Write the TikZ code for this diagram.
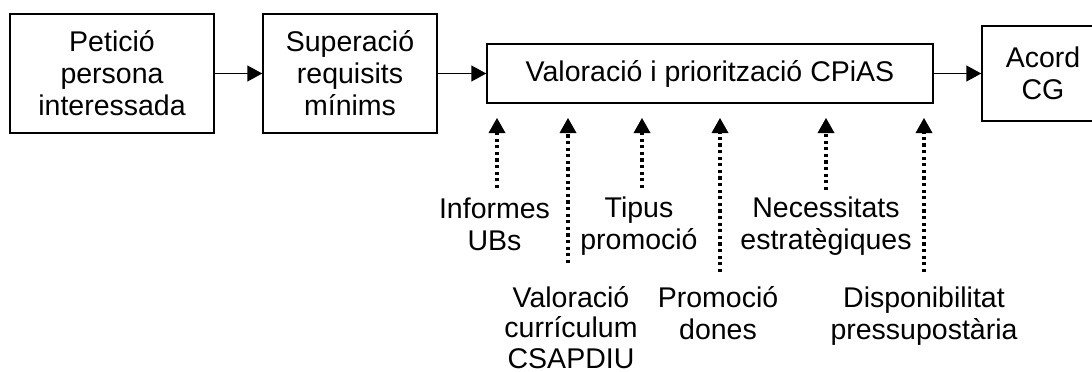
\documentclass[tikz,border=0pt]{standalone}
\usepackage{fontspec}
\setmainfont{Liberation Sans}
\usetikzlibrary{arrows.meta}
\newcommand\dgfont{\fontsize{28.5}{32}\selectfont}
\newcommand\dgfontb{\fontsize{28.5}{30.5}\selectfont}
\newcommand\topstrut{\rule{0pt}{22.4pt}}
\begin{document}
\begin{tikzpicture}[x=1pt,y=-1pt,
  box/.style={draw, line width=1.5pt, align=center, inner sep=0pt, font=\dgfont},
  flow/.style={line width=1.5pt, -{Triangle[length=15pt,width=16pt]}},
  infl/.style={line width=3.2pt, dash pattern=on 3.3pt off 3.3pt,
    -{Triangle[length=15pt,width=17pt,line width=0pt]}},
  lab/.style={align=center, inner sep=0pt, anchor=north, font=\dgfont}]
\useasboundingbox (0,0) rectangle (1092,372);
\clip (0,0) rectangle (1092,372);

% main boxes
\node[box, minimum width=204pt, minimum height=119pt] (b1) at (112,73.5) {Petició\\persona\\interessada};
\node[box, minimum width=174pt, minimum height=119pt] (b2) at (350,73.5) {Superació\\requisits\\mínims};
\node[box, minimum width=446pt, minimum height=59pt] (b3) at (710,73.5) {Valoració i priorització CPiAS};
\node[box, minimum width=122pt, minimum height=95pt] (b4) at (1043,73.5) {Acord\\CG};

\draw[flow] (b1.east) -- (b2.west);
\draw[flow] (b2.east) -- (b3.west);
\draw[flow] (b3.east) -- (b4.west);

% input labels
\node[lab] (l1) at (494.5,195.6) {\strut Informes\\\strut UBs};
\node[lab, font=\dgfontb] (l2) at (571,284.6) {\topstrut Valoració\\\topstrut currículum\\\topstrut CSAPDIU};
\node[lab] (l3) at (639,194.6) {\strut Tipus\\\strut promoció};
\node[lab] (l4) at (718,284.6) {\strut Promoció\\\strut dones};
\node[lab] (l5) at (826,194.6) {\strut Necessitats\\\strut estratègiques};
\node[lab] (l6) at (924,284.6) {\strut Disponibilitat\\\strut pressupostària};

% arrow ends
\coordinate (s1) at (497,188);  \coordinate (t1) at (497,118);
\coordinate (s2) at (568,263);  \coordinate (t2) at (568,118);
\coordinate (s3) at (642,188);  \coordinate (t3) at (642,118);
\coordinate (s4) at (720,272);  \coordinate (t4) at (720,118);
\coordinate (s5) at (826,190);  \coordinate (t5) at (826,118);
\coordinate (s6) at (924,272);  \coordinate (t6) at (924,118);

\draw[infl] (s1) -- (t1);
\draw[infl] (s2) -- (t2);
\draw[infl] (s3) -- (t3);
\draw[infl] (s4) -- (t4);
\draw[infl] (s5) -- (t5);
\draw[infl] (s6) -- (t6);
\end{tikzpicture}
\end{document}
